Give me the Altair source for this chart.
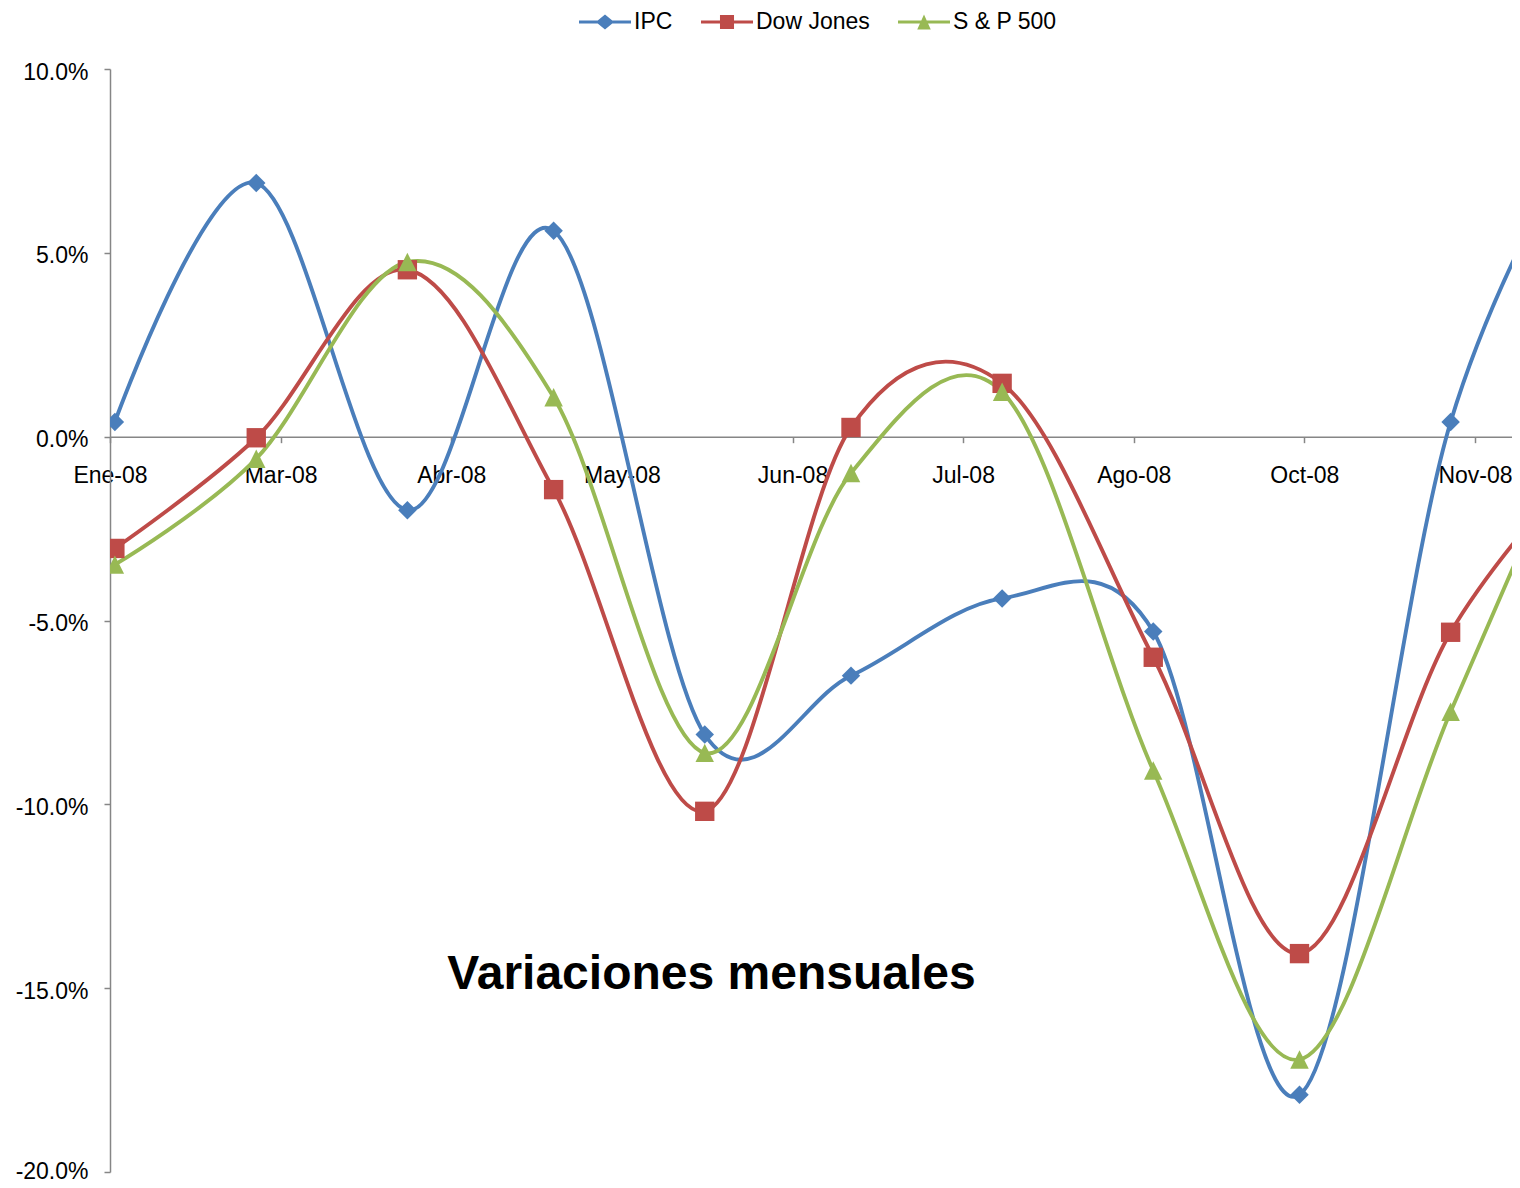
import json
import altair as alt
import pandas as pd

# ---------------- data ----------------
series_names = ["IPC", "Dow Jones", "S & P 500"]
dates = ["2008-01-31", "2008-02-29", "2008-03-31", "2008-04-30", "2008-05-31",
         "2008-06-30", "2008-07-31", "2008-08-31", "2008-09-30", "2008-10-31",
         "2008-11-30"]
ipc = [0.4, 6.9, -2.0, 5.6, -8.1, -6.5, -4.4, -5.3, -17.9, 0.4, 9.0]
dow = [-3.04, -0.03, 4.54, -1.44, -10.19, 0.25, 1.45, -6.0, -14.06, -5.32, -0.3]
sp500 = [-3.48, -0.6, 4.75, 1.07, -8.6, -0.99, 1.22, -9.08, -16.94, -7.48, 1.7]

tick_dates = ["2008-01-30", "2008-03-05", "2008-04-09", "2008-05-14", "2008-06-18",
              "2008-07-23", "2008-08-27", "2008-10-01", "2008-11-05"]
tick_labels = ["Ene-08", "Mar-08", "Abr-08", "May-08", "Jun-08", "Jul-08",
               "Ago-08", "Oct-08", "Nov-08"]
y_ticks = [-0.20, -0.15, -0.10, -0.05, 0.0, 0.05, 0.10]
title_text = "Variaciones mensuales"

# ---------------- styling ----------------
FONT = "Liberation Sans"
line_colors = ["#4A7EBB", "#BE4B48", "#98B954"]
axis_gray = "#868686"
marker_paths = [
    "M0,-1L1,0L0,1L-1,0Z",
    "M-1.05,-1.05H1.05V1.05H-1.05Z",
    "M0,-1L1,1H-1Z",
]
legend_paths = [
    "M-1,-0.058H1V0.058H-1Z M0,-0.29L0.35,0L0,0.29L-0.35,0Z",
    "M-1,-0.058H1V0.058H-1Z M-0.27,-0.27H0.27V0.27H-0.27Z",
    "M-1,-0.058H1V0.058H-1Z M0,-0.29L0.26,0.29H-0.26Z",
]

origin = pd.Timestamp("2008-01-01")
days = [(pd.Timestamp(d) - origin).days for d in dates]
tick_days = [(pd.Timestamp(d) - origin).days for d in tick_dates]

rows = []
for name, vals in zip(series_names, [ipc, dow, sp500]):
    for d, v in zip(days, vals):
        rows.append({"series": name, "day": d, "value": v / 100.0})
df = pd.DataFrame(rows)

x_label_expr = f"{json.dumps(tick_labels)}[indexof({json.dumps(tick_days)}, datum.value)]"

PLOT_W, PLOT_H = 1402, 1103
x_start = tick_days[0]
x_end = x_start + PLOT_W / 4.875   # the reference is cut at its right edge
y_min, y_max = -0.2, 0.1
# move the x axis up so that it crosses the y axis at 0
x_axis_offset = -PLOT_H * (0 - y_min) / (y_max - y_min)

x_enc = alt.X(
    "day:Q",
    scale=alt.Scale(domain=[x_start, x_end], nice=False, zero=False),
    axis=alt.Axis(
        values=tick_days, labelExpr=x_label_expr, orient="bottom",
        offset=x_axis_offset, tickSize=6, labelPadding=22, labelFlush=False,
        labelOverlap=False, grid=False, title=None,
        domainColor=axis_gray, tickColor=axis_gray, domainWidth=1.5, tickWidth=1.5,
        labelFont=FONT, labelFontSize=23, labelColor="black",
    ),
)
y_enc = alt.Y(
    "value:Q",
    scale=alt.Scale(domain=[y_min, y_max], nice=False, zero=False),
    axis=alt.Axis(
        values=y_ticks,
        labelExpr="replace(format(datum.value, '.1%'), '\u2212', '-')",
        tickSize=6, labelPadding=16,
        labelOffset={"condition": {"test": "datum.value < -0.19", "value": -1}, "value": 3},
        grid=False, title=None,
        domainColor=axis_gray, tickColor=axis_gray, domainWidth=1.5, tickWidth=1.5,
        labelFont=FONT, labelFontSize=23, labelColor="black",
    ),
)

color_scale = alt.Scale(domain=series_names, range=line_colors)
base = alt.Chart(df)

lines = base.mark_line(interpolate="cardinal", strokeWidth=3.9, clip=True).encode(
    x=x_enc, y=y_enc,
    color=alt.Color("series:N", scale=color_scale, legend=None),
)

markers = base.mark_point(filled=True, size=340, opacity=1, clip=True).encode(
    x=x_enc, y=y_enc,
    color=alt.Color("series:N", scale=color_scale, legend=None),
    shape=alt.Shape("series:N", scale=alt.Scale(domain=series_names, range=marker_paths), legend=None),
)

legend_props = dict(
    orient="none", direction="horizontal", legendX=469, legendY=-73, title=None,
    symbolSize=2704, symbolStrokeWidth=0, labelOffset=3, columnPadding=28,
    labelFont=FONT, labelFontSize=23, labelColor="black", padding=0, offset=0,
)
legend_layer = base.mark_point(filled=True, size=2704, opacity=1, clip=True).encode(
    x=alt.value(-2000), y=alt.value(-2000),
    color=alt.Color("series:N", scale=color_scale, legend=alt.Legend(**legend_props)),
    shape=alt.Shape("series:N", scale=alt.Scale(domain=series_names, range=legend_paths),
                    legend=alt.Legend(**legend_props)),
)

title_layer = alt.Chart(pd.DataFrame({"t": [title_text]})).mark_text(
    font=FONT, fontSize=48, fontWeight="bold", align="center", baseline="alphabetic", color="black"
).encode(x=alt.value(601.5), y=alt.value(920), text="t:N")

chart = alt.layer(lines, markers, legend_layer, title_layer).resolve_scale(
    color="independent", shape="independent"
).properties(
    width=PLOT_W, height=PLOT_H,
    padding={"left": 102, "top": 61, "right": 0, "bottom": 8},
    autosize=alt.AutoSizeParams(type="none"),
    view=alt.ViewConfig(stroke=None, strokeWidth=0),
).configure_view(strokeWidth=0, stroke=None).configure(font=FONT)

chart.save("out.html", embed_options={"renderer": "svg", "actions": False})
